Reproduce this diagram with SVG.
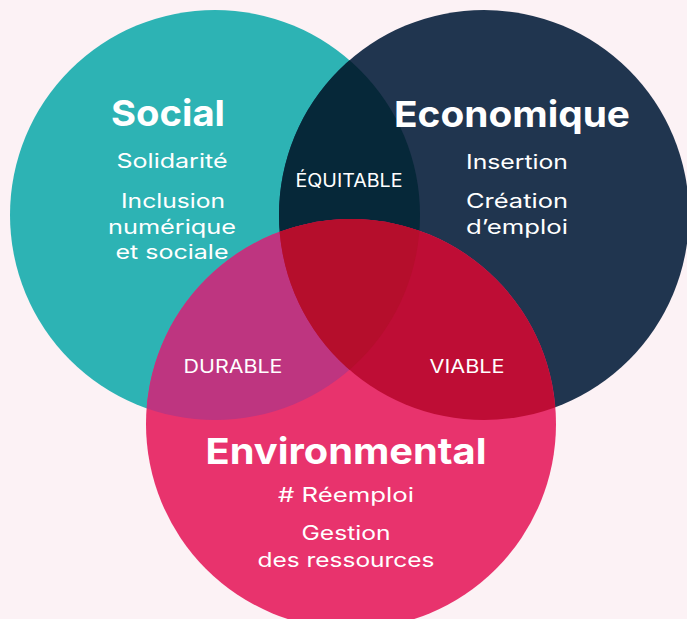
<svg xmlns="http://www.w3.org/2000/svg" width="687" height="619" viewBox="0 0 687 619">
<style>
.t{font-family:Inter,"Noto Sans",sans-serif;fill:#fff;text-anchor:middle}
.h{font-weight:700;font-size:36px}
.b{font-weight:400;font-size:20px}
.s{font-weight:400;font-size:18px}
</style>
<defs>
<clipPath id="cT"><circle cx="215" cy="215" r="205"/></clipPath>
<clipPath id="cN"><circle cx="484" cy="215" r="205"/></clipPath>
<clipPath id="cP"><circle cx="351" cy="424" r="205"/></clipPath>
</defs>
<rect width="687" height="619" fill="#FCF2F5"/>
<g id="circles">
<circle id="social-circle" cx="215" cy="215" r="205" fill="#2DB3B4"/>
<circle id="eco-circle" cx="484" cy="215" r="205" fill="#20354F"/>
<circle id="env-circle" cx="351" cy="424" r="205" fill="#E8336D"/>
<g clip-path="url(#cT)"><circle cx="484" cy="215" r="205" fill="#062839"/><circle cx="351" cy="424" r="205" fill="#BE3580"/></g>
<g clip-path="url(#cN)"><circle cx="351" cy="424" r="205" fill="#BE0D35"/></g>
<g clip-path="url(#cT)"><g clip-path="url(#cN)"><circle cx="351" cy="424" r="205" fill="#B50E2C"/></g></g>
</g>
<g id="social">
<text class="t h" x="168" y="126" textLength="114" lengthAdjust="spacingAndGlyphs">Social</text>
<text class="t b" x="172" y="168" textLength="111" lengthAdjust="spacingAndGlyphs">Solidarité</text>
<text class="t b" x="173" y="208" textLength="104" lengthAdjust="spacingAndGlyphs">Inclusion</text>
<text class="t b" x="172" y="234" textLength="128" lengthAdjust="spacingAndGlyphs">numérique</text>
<text class="t b" x="172" y="259" textLength="113" lengthAdjust="spacingAndGlyphs">et sociale</text>
</g>
<g id="economique">
<text class="t h" x="512" y="127" textLength="236" lengthAdjust="spacingAndGlyphs">Economique</text>
<text class="t b" x="517" y="169" textLength="102" lengthAdjust="spacingAndGlyphs">Insertion</text>
<text class="t b" x="517" y="208" textLength="102" lengthAdjust="spacingAndGlyphs">Création</text>
<text class="t b" x="517" y="234" textLength="102" lengthAdjust="spacingAndGlyphs">d’emploi</text>
</g>
<g id="environmental">
<text class="t h" x="346" y="464" textLength="281" lengthAdjust="spacingAndGlyphs">Environmental</text>
<text class="t b" x="346" y="502" textLength="136" lengthAdjust="spacingAndGlyphs"># Réemploi</text>
<text class="t b" x="346" y="540" textLength="89" lengthAdjust="spacingAndGlyphs">Gestion</text>
<text class="t b" x="346" y="567" textLength="177" lengthAdjust="spacingAndGlyphs">des ressources</text>
</g>
<g id="equitable"><text class="t s" x="349" y="187" textLength="107" lengthAdjust="spacingAndGlyphs">ÉQUITABLE</text></g>
<g id="durable"><text class="t s" x="233" y="373" textLength="99" lengthAdjust="spacingAndGlyphs">DURABLE</text></g>
<g id="viable"><text class="t s" x="467" y="373" textLength="75" lengthAdjust="spacingAndGlyphs">VIABLE</text></g>
</svg>
